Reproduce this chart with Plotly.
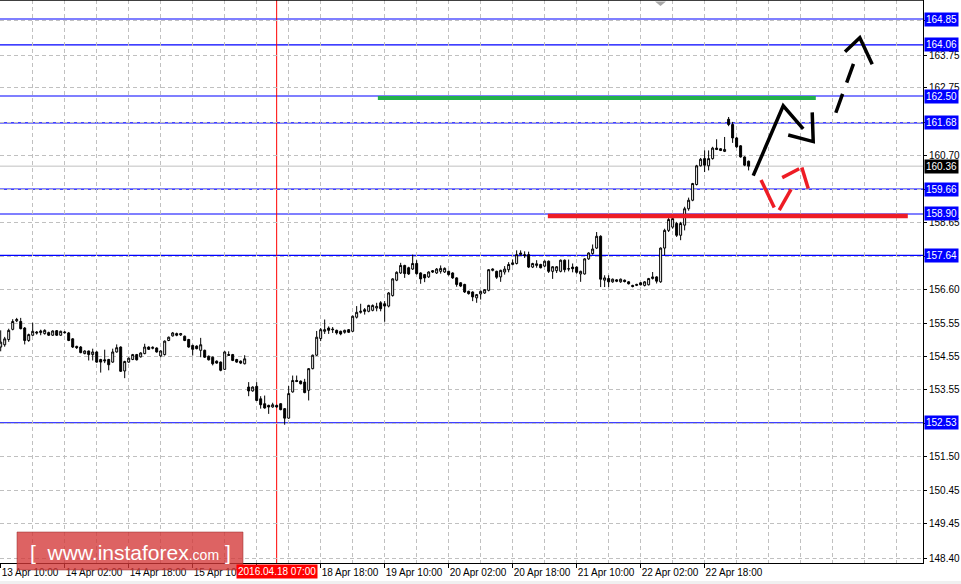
import plotly.graph_objects as go

# ---------------- DATA ----------------
opens = [154.84,154.91,155.07,155.38,155.64,155.62,155.42,155.04,155.20,155.30,
         155.28,155.25,155.28,155.20,155.34,155.20,155.30,155.27,155.09,154.86,
         154.84,154.64,154.72,154.61,154.69,154.46,154.45,154.46,154.38,154.69,
         154.84,154.11,154.38,154.46,154.61,154.54,154.64,154.84,154.80,154.81,
         154.57,154.61,155.04,155.18,155.25,155.21,155.17,155.07,154.89,154.87,
         154.74,154.74,154.56,154.53,154.41,154.38,154.16,154.61,154.61,154.46,
         154.41,154.33,153.62,153.50,153.64,153.26,153.11,153.06,153.01,153.06,
         153.11,152.96,152.67,153.47,153.82,153.80,153.77,153.52,154.18,154.59,
         155.10,155.32,155.42,155.39,155.35,155.32,155.29,155.37,155.32,155.75,
         155.90,155.98,155.93,155.96,156.03,156.19,156.16,156.09,156.41,156.88,
         157.10,157.33,157.26,157.22,157.39,157.10,157.05,156.98,157.17,157.10,
         157.15,157.13,157.15,157.10,156.95,156.80,156.75,156.54,156.52,156.34,
         156.46,156.49,156.57,157.18,157.15,156.98,157.13,157.20,157.36,157.39,
         157.66,157.66,157.66,157.28,157.33,157.36,157.31,157.46,157.15,157.17,
         157.15,157.49,157.22,157.28,157.28,157.07,157.07,157.53,157.69,157.86,
         158.22,156.88,156.93,156.83,156.89,156.83,156.88,156.83,156.72,156.72,
         156.80,156.72,156.74,156.93,156.98,156.83,157.86,158.40,158.50,158.61,
         158.25,158.56,159.06,159.32,159.80,160.37,160.59,160.37,160.59,160.91,
         160.89,160.81,161.79,161.63,161.22,160.98,160.64,160.51]
highs = [155.35,155.15,155.40,155.69,155.73,155.73,155.45,155.25,155.58,155.33,
         155.37,155.38,155.31,155.35,155.36,155.34,155.33,155.30,155.11,154.88,
         154.87,154.74,154.73,154.79,154.71,154.48,154.76,154.48,154.79,154.92,
         154.86,154.42,154.52,154.63,154.63,154.68,154.94,154.86,154.86,154.83,
         154.74,155.04,155.16,155.30,155.28,155.27,155.19,155.09,154.91,154.89,
         155.12,154.76,154.58,154.55,154.43,154.40,154.71,154.71,154.63,154.48,
         154.43,154.59,153.77,153.64,153.77,153.34,153.36,153.08,153.14,153.08,
         153.13,152.98,153.65,153.97,153.97,153.82,153.87,154.20,154.61,155.33,
         155.42,155.68,155.47,155.45,155.37,155.34,155.37,155.39,155.80,156.09,
         156.16,156.03,156.13,156.14,156.19,156.24,156.24,156.52,156.94,157.15,
         157.41,157.35,157.29,157.66,157.49,157.12,157.07,157.15,157.19,157.25,
         157.33,157.27,157.17,157.12,156.97,156.82,156.77,156.56,156.54,156.46,
         156.56,156.61,157.22,157.24,157.17,157.20,157.31,157.43,157.51,157.79,
         157.79,157.76,157.75,157.41,157.49,157.38,157.48,157.48,157.31,157.31,
         157.51,157.51,157.51,157.39,157.30,157.17,157.55,157.73,157.97,158.35,
         158.25,157.03,157.03,156.93,156.91,156.93,156.90,156.85,156.74,156.77,
         156.82,156.85,156.95,157.13,157.00,157.88,158.45,158.78,158.83,158.66,
         158.66,159.12,159.40,159.85,160.40,160.61,160.84,160.84,160.95,161.18,
         160.91,161.25,161.86,161.71,161.25,161.00,160.66,160.53]
lows = [154.71,154.85,155.00,155.35,155.60,155.38,154.92,155.00,155.18,155.22,
        155.20,155.22,155.18,155.18,155.18,155.18,155.25,155.02,154.81,154.78,
        154.65,154.62,154.43,154.43,154.36,154.06,154.35,154.13,154.36,154.67,
        154.08,153.89,154.36,154.44,154.43,154.52,154.62,154.75,154.77,154.67,
        154.53,154.58,155.02,155.16,155.17,155.18,155.02,154.82,154.58,154.77,
        154.53,154.51,154.43,154.28,154.33,154.10,154.14,154.57,154.41,154.36,
        154.32,154.31,153.34,153.48,153.19,152.96,152.96,152.80,152.99,152.99,
        152.91,152.47,152.65,153.45,153.77,153.70,153.43,153.21,154.16,154.57,
        155.02,155.24,155.24,155.27,155.22,155.20,155.25,155.27,155.30,155.71,
        155.86,155.83,155.90,155.93,155.93,155.93,155.61,156.05,156.38,156.85,
        157.07,156.95,157.04,157.19,157.05,156.77,156.82,156.95,157.10,157.07,
        157.08,157.10,157.02,156.92,156.68,156.67,156.49,156.44,156.24,156.19,
        156.29,156.46,156.54,157.15,156.92,156.83,157.05,157.12,157.33,157.36,
        157.63,157.56,157.25,157.25,157.26,157.24,157.28,157.10,156.92,157.10,
        157.12,157.12,157.15,157.12,157.08,156.83,157.05,157.50,157.66,157.83,
        156.67,156.67,156.67,156.80,156.82,156.80,156.81,156.75,156.66,156.70,
        156.72,156.69,156.72,156.90,156.78,156.80,157.64,158.35,158.45,158.20,
        158.10,158.40,159.00,159.29,159.77,160.35,160.18,160.23,160.56,160.85,
        160.82,160.79,161.58,161.07,160.92,160.62,160.36,160.23]
closes = [154.99,155.09,155.35,155.62,155.68,155.40,155.04,155.22,155.32,155.27,
          155.33,155.35,155.20,155.33,155.20,155.32,155.28,155.04,154.84,154.82,
          154.67,154.72,154.61,154.69,154.38,154.38,154.42,154.30,154.69,154.82,
          154.10,154.40,154.50,154.61,154.45,154.66,154.84,154.77,154.83,154.69,
          154.72,155.02,155.14,155.27,155.20,155.25,155.04,154.84,154.77,154.79,
          154.91,154.53,154.45,154.33,154.35,154.13,154.69,154.59,154.43,154.38,
          154.35,154.48,153.50,153.62,153.21,153.08,152.98,153.01,153.08,153.01,
          152.93,152.67,153.42,153.82,153.79,153.72,153.45,154.18,154.59,155.14,
          155.37,155.37,155.35,155.37,155.27,155.24,155.35,155.29,155.78,155.90,
          155.93,155.93,156.11,156.11,156.08,156.01,156.09,156.49,156.92,157.12,
          157.33,157.08,157.07,157.39,157.08,156.92,156.95,157.13,157.13,157.22,
          157.24,157.24,157.05,156.95,156.75,156.70,156.52,156.47,156.37,156.44,
          156.54,156.59,157.20,157.22,156.97,157.18,157.22,157.36,157.41,157.66,
          157.71,157.63,157.28,157.39,157.38,157.26,157.46,157.15,157.29,157.29,
          157.49,157.20,157.23,157.23,157.12,157.15,157.53,157.71,157.83,158.22,
          156.91,156.95,156.83,156.91,156.85,156.91,156.84,156.77,156.69,156.75,
          156.74,156.83,156.93,156.98,156.85,157.86,158.40,158.73,158.76,158.25,
          158.61,159.06,159.32,159.83,160.37,160.57,160.39,160.59,160.91,160.87,
          160.84,160.87,161.63,161.22,160.95,160.64,160.39,160.36]
bars = list(range(len(opens)))

time_label_bars = [0, 16, 32, 48, 64, 80, 96, 112, 128, 144, 160, 176]
time_labels = ["13 Apr 10:00", "14 Apr 02:00", "14 Apr 18:00", "15 Apr 10:00",
               "18 Apr 02:00", "18 Apr 18:00", "19 Apr 10:00", "20 Apr 02:00",
               "20 Apr 18:00", "21 Apr 10:00", "22 Apr 02:00", "22 Apr 18:00"]

price_ticks = [164.80, 163.75, 162.75, 161.70, 160.70, 159.65, 158.65, 157.60,
               156.60, 155.55, 154.55, 153.55, 152.50, 151.50, 150.45, 149.45, 148.40]

blue_levels = [164.85, 164.06, 162.50, 161.68, 159.66, 158.90, 157.64, 152.53]
last_price = 160.36
marker_bar = 69
marker_label = "2016.04.18 07:00"

green_level_bars = [94.3, 203.8]
green_level_price = 162.44
red_level_bars = [136.8, 226.8]
red_level_price = 158.84

# hand-drawn forecast arrows (bar index, price)
black_path_bars = [188.15, 195.65, 200.65]
black_path_prices = [160.07, 162.20, 161.50]
black_head_bars = [196.9, 203.15, 202.9]
black_head_prices = [161.31, 161.11, 162.00]
dash_shaft_bars = [208.8, 213.8]
dash_shaft_prices = [161.99, 163.68]
dash_head_bars = [211.1, 214.8, 217.9]
dash_head_prices = [163.85, 164.28, 163.47]
red_seg_bars = [[190.1, 193.4], [194.65, 197.6], [195.4, 199.65], [200.3, 201.9]]
red_seg_prices = [[159.94, 159.10], [159.02, 159.65], [160.01, 160.28], [160.32, 159.68]]

# ---------------- FIGURE ----------------
W, H = 961, 584
ML, MR, MT, MB = 0, 38, 0, 21
PW, PH = W - ML - MR, H - MT - MB
FONT = "Liberation Sans, Arial, sans-serif"


def covered(v):
    # tick labels hidden behind a level box in the reference
    return any(abs(v - lv) < 0.1 for lv in blue_levels)


fig = go.Figure()
fig.add_trace(go.Candlestick(
    x=bars, open=opens, high=highs, low=lows, close=closes,
    increasing=dict(line=dict(color="black", width=1), fillcolor="white"),
    decreasing=dict(line=dict(color="black", width=1), fillcolor="black"),
    whiskerwidth=0, hoverinfo="skip", showlegend=False,
))

line_kw = dict(mode="lines", hoverinfo="skip", showlegend=False)
fig.add_trace(go.Scatter(x=black_path_bars, y=black_path_prices,
                         line=dict(color="black", width=3.5), **line_kw))
fig.add_trace(go.Scatter(x=black_head_bars, y=black_head_prices,
                         line=dict(color="black", width=3.5), **line_kw))
fig.add_trace(go.Scatter(x=dash_shaft_bars, y=dash_shaft_prices,
                         line=dict(color="black", width=3.5, dash="20px,12px"), **line_kw))
fig.add_trace(go.Scatter(x=dash_head_bars, y=dash_head_prices,
                         line=dict(color="black", width=3.5), **line_kw))
for sx, sy in zip(red_seg_bars, red_seg_prices):
    fig.add_trace(go.Scatter(x=sx, y=sy, line=dict(color="#ee1c25", width=3.5), **line_kw))

shapes = []
shapes.append(dict(type="line", xref="paper", x0=0, x1=1, yref="y",
                   y0=last_price, y1=last_price, line=dict(color="#c0c0c0", width=1),
                   layer="between"))
for lv in blue_levels:
    shapes.append(dict(type="line", xref="paper", x0=0, x1=1, yref="y",
                       y0=lv, y1=lv, line=dict(color="#0000ff", width=1.2), layer="between"))
shapes.append(dict(type="line", xref="x", x0=marker_bar, x1=marker_bar, yref="paper",
                   y0=0, y1=1, line=dict(color="#ff0000", width=1), layer="between"))
shapes.append(dict(type="line", xref="x", x0=green_level_bars[0], x1=green_level_bars[1],
                   yref="y", y0=green_level_price, y1=green_level_price,
                   line=dict(color="#22b14c", width=4), layer="above"))
shapes.append(dict(type="line", xref="x", x0=red_level_bars[0], x1=red_level_bars[1],
                   yref="y", y0=red_level_price, y1=red_level_price,
                   line=dict(color="#ee1c25", width=4.5), layer="above"))
# top frame line
shapes.append(dict(type="line", xref="paper", x0=0, x1=1, yref="paper", y0=1, y1=1,
                   line=dict(color="black", width=1.5), layer="above"))
# chart-shift triangle
tx0, tx1, txm = 655 / PW, 666 / PW, 660.5 / PW
shapes.append(dict(type="path", xref="paper", yref="paper",
                   path=f"M {tx0},{1 - 1.5/PH} L {tx1},{1 - 1.5/PH} L {txm},{1 - 6/PH} Z",
                   fillcolor="#a8a8a8", line=dict(width=0), layer="above"))
# bottom light band
shapes.append(dict(type="rect", xref="paper", yref="paper", x0=-0.01, x1=1.05,
                   y0=1 - (H + 2) / PH, y1=1 - 581 / PH,
                   fillcolor="#f0f0f0", line=dict(width=0), layer="above"))
# watermark box
shapes.append(dict(type="rect", xref="paper", yref="paper",
                   x0=17 / PW, x1=243 / PW, y0=1 - 570 / PH, y1=1 - 532 / PH,
                   fillcolor="rgba(212,55,55,0.78)", line=dict(color="rgba(150,40,40,0.5)", width=1),
                   layer="above"))

annotations = []
for lv in blue_levels:
    annotations.append(dict(xref="paper", x=1, xanchor="left", xshift=1,
                            yref="y", y=lv, yanchor="middle",
                            text=f"{lv:.2f}", showarrow=False,
                            font=dict(family=FONT, size=10, color="white"),
                            bgcolor="#0000ff", borderpad=1))
annotations.append(dict(xref="paper", x=1, xanchor="left", xshift=1,
                        yref="y", y=last_price, yanchor="middle",
                        text=f"{last_price:.2f}", showarrow=False,
                        font=dict(family=FONT, size=10, color="white"),
                        bgcolor="black", borderpad=1))
annotations.append(dict(xref="x", x=marker_bar, xanchor="center",
                        yref="paper", y=0, yanchor="top", yshift=-1,
                        text=marker_label, showarrow=False,
                        font=dict(family=FONT, size=10, color="white"),
                        bgcolor="#ff0000", borderpad=1))
annotations.append(dict(xref="paper", x=130 / PW, xanchor="center",
                        yref="paper", y=1 - 552 / PH, yanchor="middle",
                        text="[ &nbsp;www.instaforex<span style='font-size:14px'>.com</span> ]",
                        showarrow=False,
                        font=dict(family=FONT, size=21, color="white")))

fig.update_layout(
    width=W, height=H,
    margin=dict(l=ML, r=MR, t=MT, b=MB, autoexpand=False),
    paper_bgcolor="white", plot_bgcolor="white",
    showlegend=False,
    font=dict(family=FONT, size=10, color="black"),
    shapes=shapes, annotations=annotations,
    xaxis=dict(
        range=[-0.175, 230.6], rangeslider=dict(visible=False),
        tickmode="array", tickvals=time_label_bars,
        ticktext=["" if b == marker_bar - 5 else t for b, t in zip(time_label_bars, time_labels)],
        tickangle=0, automargin=False,
        ticks="outside", ticklen=4, tickcolor="black", tickwidth=1,
        ticklabelposition="outside right",
        showline=True, linecolor="black", linewidth=1,
        showgrid=True, gridcolor="#c0c0c0", griddash="4px,3px", gridwidth=1,
        minor=dict(tickmode="linear", tick0=0, dtick=8, showgrid=True,
                   gridcolor="#c0c0c0", griddash="4px,3px", ticks=""),
        zeroline=False, fixedrange=True,
        tickfont=dict(family=FONT, size=10, color="black"),
    ),
    yaxis=dict(
        side="right", range=[148.25, 165.43], automargin=False,
        tickmode="array", tickvals=price_ticks,
        ticktext=["" if covered(v) else f"{v:.2f}" for v in price_ticks],
        ticks="outside", ticklen=3, tickcolor="black",
        showline=True, linecolor="black", linewidth=1,
        showgrid=True, gridcolor="#c0c0c0", griddash="4px,3px", gridwidth=1,
        zeroline=False, fixedrange=True,
        tickfont=dict(family=FONT, size=10, color="black"),
    ),
)

fig.write_html("out.html", config={"displayModeBar": False, "staticPlot": True},
               post_script="document.body.style.margin='0';document.body.style.overflow='hidden';")
